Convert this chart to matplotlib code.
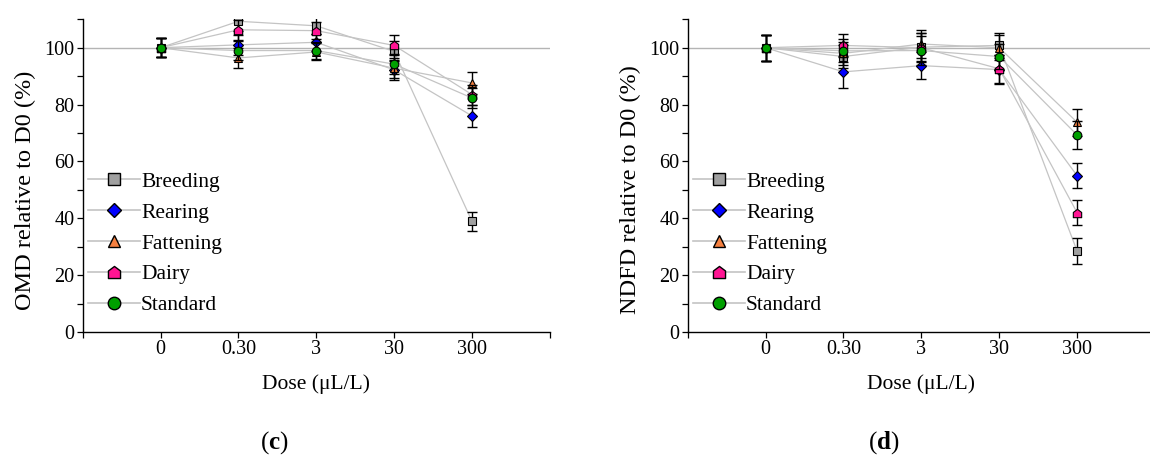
import matplotlib
matplotlib.use("Agg")
import matplotlib.pyplot as plt
from matplotlib.path import Path
import numpy as np

plt.rcParams['font.family'] = ['Liberation Serif', 'DejaVu Serif']
plt.rcParams['mathtext.fontset'] = 'custom'
plt.rcParams['mathtext.rm'] = 'Liberation Serif'
plt.rcParams['mathtext.bf'] = 'Liberation Serif:bold'

doses = ["0", "0.30", "3", "30", "300"]
series = ["Breeding", "Rearing", "Fattening", "Dairy", "Standard"]

omd_breeding = [100, 109.3, 107.7, 98.7, 38.9]
omd_rearing = [100, 101.0, 101.9, 92.2, 76.0]
omd_fattening = [100, 96.4, 98.5, 92.8, 87.6]
omd_dairy = [100, 106.3, 106.0, 100.8, 83.5]
omd_standard = [100, 99.0, 99.0, 94.2, 82.3]

omd_err_breeding = [3.3, 3.5, 3.0, 3.5, 3.2]
omd_err_rearing = [3.3, 3.5, 3.0, 3.5, 4.0]
omd_err_fattening = [3.3, 3.6, 3.0, 3.5, 3.8]
omd_err_dairy = [3.3, 3.5, 3.0, 3.5, 3.5]
omd_err_standard = [3.3, 3.5, 3.0, 3.5, 3.5]

ndfd_breeding = [100, 96.9, 100.2, 100.8, 28.5]
ndfd_rearing = [100, 91.5, 93.7, 92.3, 55.0]
ndfd_fattening = [100, 98.0, 101.3, 100.0, 73.8]
ndfd_dairy = [100, 100.8, 100.0, 92.6, 42.0]
ndfd_standard = [100, 98.9, 99.0, 96.9, 69.3]

ndfd_err_breeding = [4.6, 4.0, 5.0, 4.5, 4.5]
ndfd_err_rearing = [4.6, 5.5, 4.8, 5.0, 4.5]
ndfd_err_fattening = [4.6, 4.0, 5.0, 4.5, 4.7]
ndfd_err_dairy = [4.6, 4.0, 5.0, 5.0, 4.5]
ndfd_err_standard = [4.6, 4.0, 5.0, 4.5, 5.0]

colors = ["#a0a0a0", "#0000ff", "#f58040", "#ff1493", "#00a000"]
house = Path([(-1, -1), (1, -1), (1, 0.25), (0, 1), (-1, 0.25), (-1, -1)],
             [Path.MOVETO, Path.LINETO, Path.LINETO, Path.LINETO, Path.LINETO, Path.CLOSEPOLY])
markers = ["s", "D", "^", house, "o"]
msizes = [6.0, 5.2, 6.2, 6.0, 6.2]

fig = plt.figure(figsize=(11.5, 4.59), dpi=100)
ax1 = fig.add_axes([0.0719, 0.2767, 0.4063, 0.6813])
ax2 = fig.add_axes([0.598, 0.2767, 0.4063, 0.6813])

panels = [
    (ax1, [omd_breeding, omd_rearing, omd_fattening, omd_dairy, omd_standard],
     [omd_err_breeding, omd_err_rearing, omd_err_fattening, omd_err_dairy, omd_err_standard],
     "OMD relative to D0 (%)", "c"),
    (ax2, [ndfd_breeding, ndfd_rearing, ndfd_fattening, ndfd_dairy, ndfd_standard],
     [ndfd_err_breeding, ndfd_err_rearing, ndfd_err_fattening, ndfd_err_dairy, ndfd_err_standard],
     "NDFD relative to D0 (%)", "d"),
]

x = np.arange(1, len(doses) + 1)
for ax, vals, errs, ylab, letter in panels:
    ax.axhline(100, color="#b4b4b4", lw=1.0, zorder=1)
    for i, name in enumerate(series):
        ax.plot(x, vals[i], color="#c4c4c4", lw=0.9, zorder=2)
    for i, name in enumerate(series):
        ax.errorbar(x, vals[i], yerr=errs[i], fmt="none", ecolor="black",
                    elinewidth=1.0, capsize=3.5, capthick=1.0, zorder=3 + 2 * i)
        ax.plot(x, vals[i], linestyle="none", marker=markers[i], ms=msizes[i],
                mfc=colors[i], mec="black", mew=0.8, zorder=4 + 2 * i)
    handles = []
    for i, name in enumerate(series):
        h, = ax.plot([], [], color="#c4c4c4", lw=1.2, marker=markers[i],
                     ms=msizes[i] * 1.45, mfc=colors[i], mec="black", mew=1.0, label=name)
        handles.append(h)
    ax.legend(handles=handles, loc="center left", bbox_to_anchor=(0.011, 0.283),
              frameon=False, fontsize=15.5, handlelength=2.42, handletextpad=0.05,
              labelspacing=0.5, borderpad=0, borderaxespad=0)

    ax.set_xlim(0, 6)
    ax.set_ylim(0, 110)
    ax.set_xticks(np.arange(0, 7))
    ax.set_xticklabels([""] + doses + [""])
    ax.set_yticks(np.arange(0, 111, 10))
    ax.set_yticklabels([str(v) if v % 20 == 0 and v <= 100 else "" for v in range(0, 111, 10)])
    ax.tick_params(axis="both", direction="out", length=4, width=0.9, labelsize=14.5, pad=2)
    for s in ["top", "right"]:
        ax.spines[s].set_visible(False)
    for s in ["left", "bottom"]:
        ax.spines[s].set_linewidth(1.0)
    ax.set_ylabel(ylab, fontsize=17.5)
    ax.yaxis.set_label_coords(-0.10, 0.454)
    ax.set_xlabel("Dose (\u03bcL/L)", fontsize=15.5)
    ax.xaxis.set_label_coords(0.5, -0.135)
    ax.xaxis.label.set_va("top")
    ax.text(0.41 if letter == "c" else 0.42, -0.355, r"($\mathbf{%s}$)" % letter,
            transform=ax.transAxes, ha="center", va="center", fontsize=18)

fig.savefig("out.png", dpi=100)
